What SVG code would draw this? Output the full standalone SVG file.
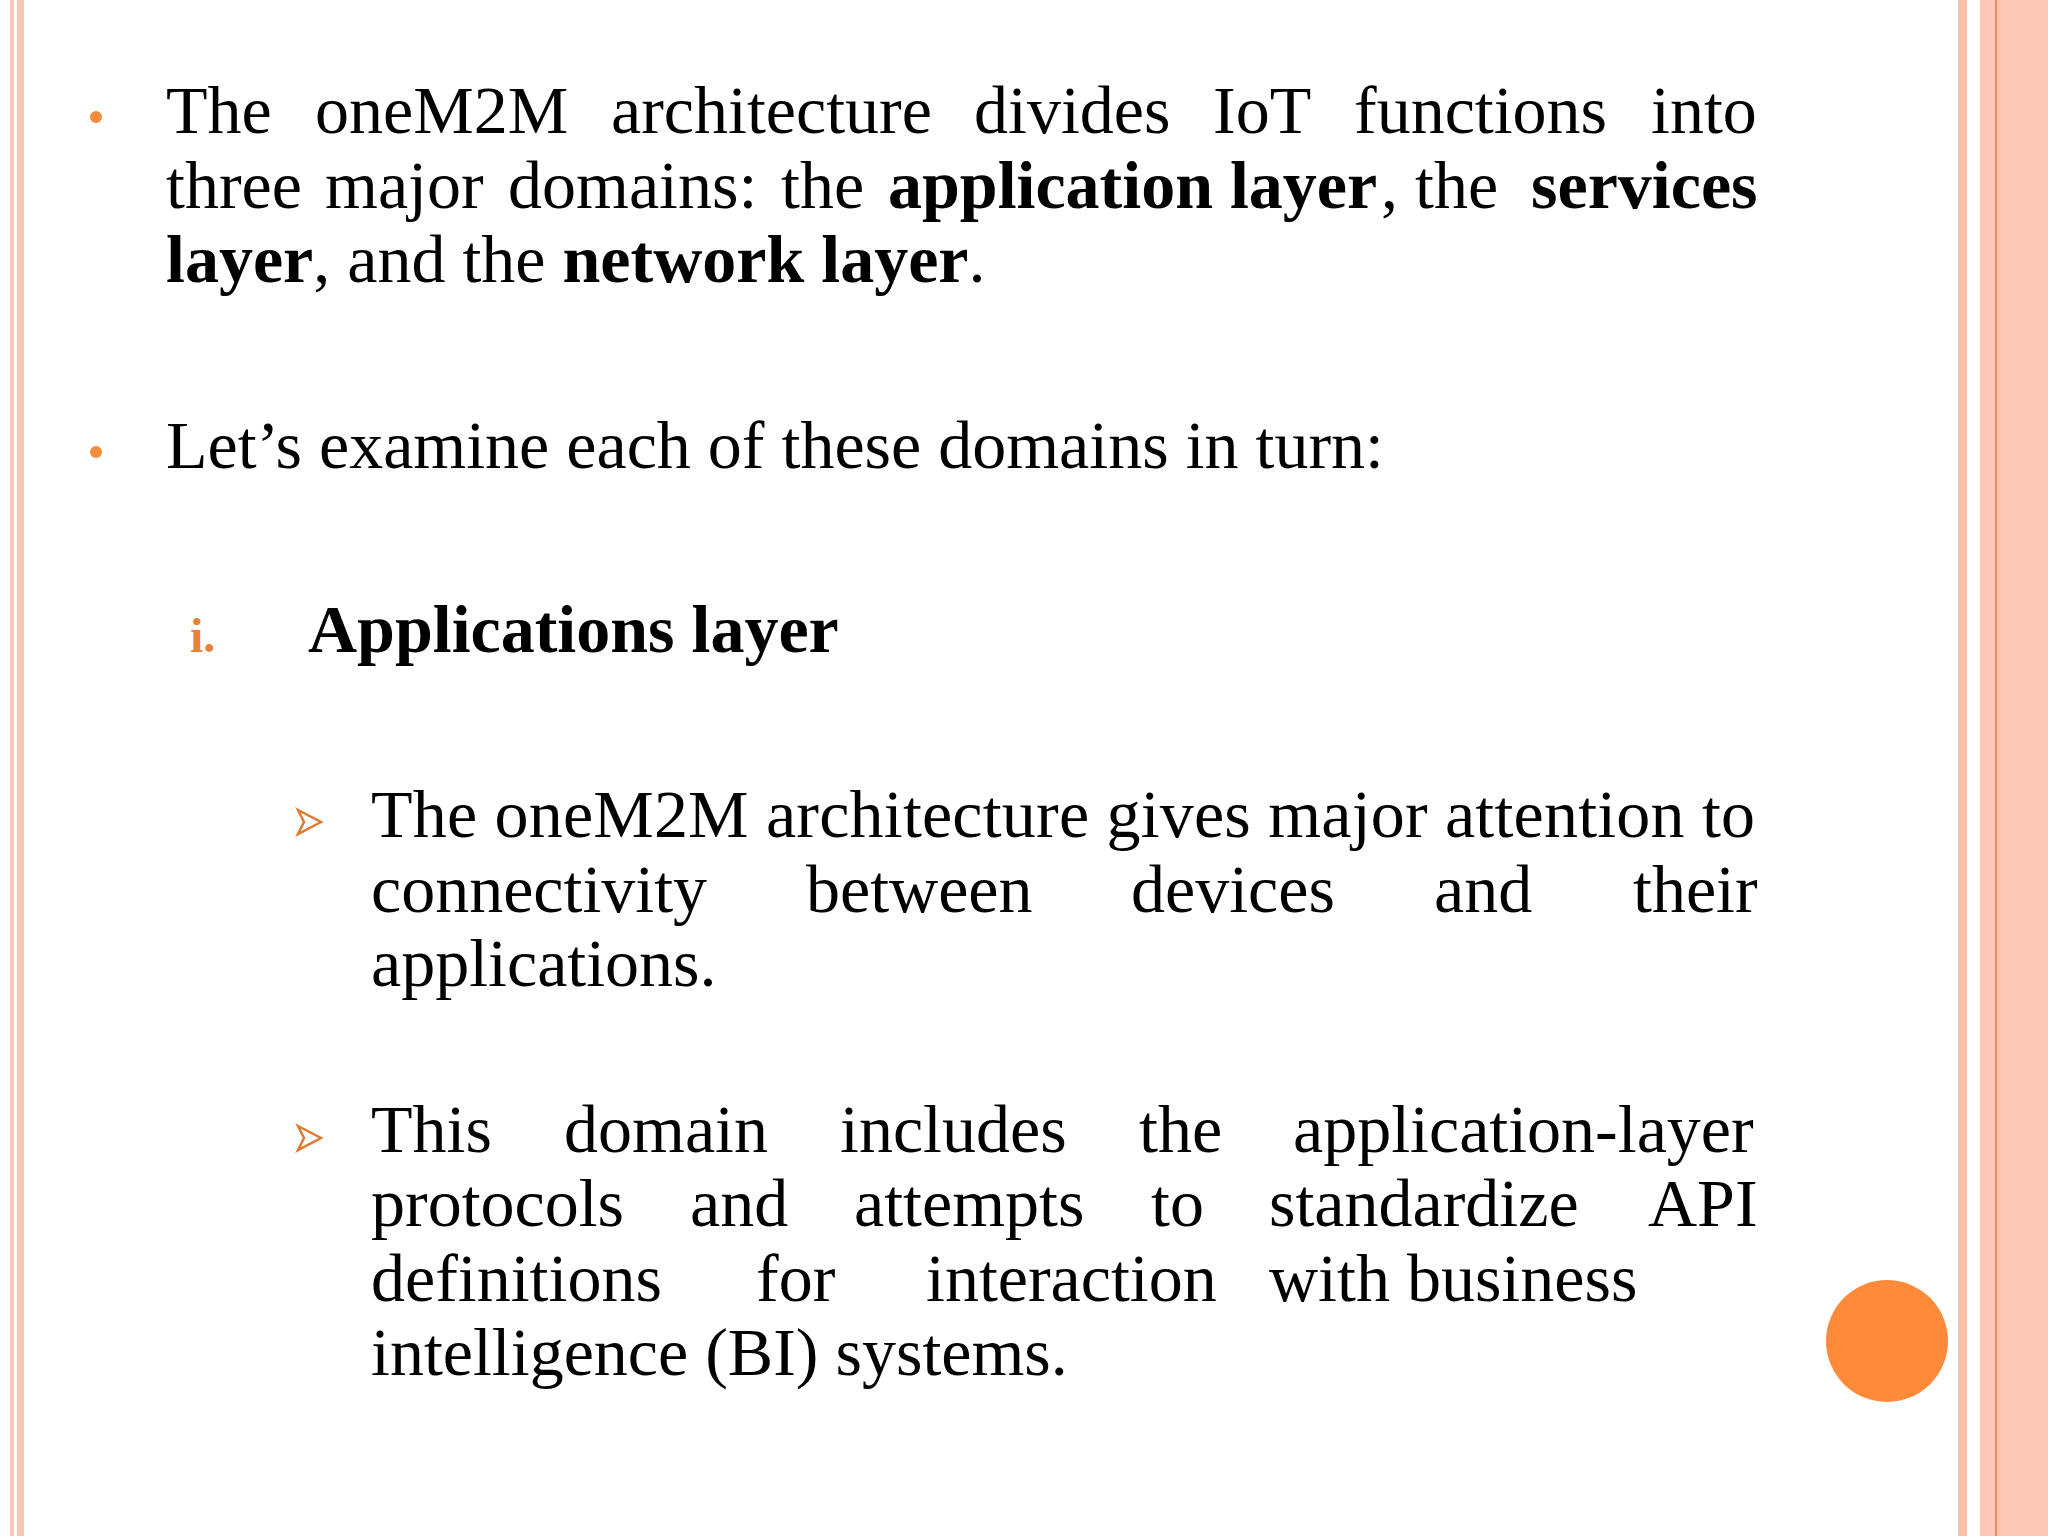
<svg xmlns="http://www.w3.org/2000/svg" width="2048" height="1536" viewBox="0 0 2048 1536">
<style>
.t{font-family:"Liberation Serif","Times New Roman",serif;font-size:68px;fill:#000}
.b{font-weight:bold}
.dot{fill:#F58B3C}
.arr{fill:#fff;stroke:#E07A2E;stroke-width:2.5}
</style>
<rect width="2048" height="1536" fill="#fff"/>
<g id="borders">
<rect x="10" y="0" width="4" height="1536" fill="#F9C7B5"/>
<rect x="17" y="0" width="7" height="1536" fill="#F9C7B5"/>
<rect x="1958" y="0" width="9" height="1536" fill="#FCC0A8"/>
<rect x="1980" y="0" width="68" height="1536" fill="#FDC8B6"/>
<rect x="1995" y="0" width="2" height="1536" fill="#F08A50"/>
</g>
<g id="bullets">
<circle class="dot" cx="96" cy="117" r="6"/>
<circle class="dot" cx="96" cy="452" r="6"/>
<text x="190" y="652" class="t b" style="fill:#E8823A;font-size:48px">i.</text>
<path class="arr" d="M298,810 L321,822 L298,834 L304,822 Z"/>
<path class="arr" d="M298,1126 L321,1138 L298,1150 L304,1138 Z"/>
</g>
<g id="text">
<text class="t" y="133"><tspan x="166">The</tspan><tspan x="315">oneM2M</tspan><tspan x="611">architecture</tspan><tspan x="974">divides</tspan><tspan x="1213">IoT</tspan><tspan x="1354">functions</tspan><tspan x="1651">into</tspan></text>
<text class="t" y="208"><tspan x="166">three</tspan><tspan x="325">major</tspan><tspan x="508">domains:</tspan><tspan x="781">the</tspan><tspan x="888" class="b">application layer</tspan><tspan x="1381">, the</tspan><tspan x="1531" class="b">services</tspan></text>
<text class="t" x="166" y="282"><tspan class="b">layer</tspan>, and the <tspan class="b">network layer</tspan>.</text>
<text class="t" x="166" y="468">Let’s examine each of these domains in turn:</text>
<text class="t b" x="308" y="652">Applications layer</text>
<text class="t" x="371" y="837" textLength="1384" lengthAdjust="spacing">The oneM2M architecture gives major attention to</text>
<text class="t" y="912"><tspan x="371">connectivity</tspan><tspan x="806">between</tspan><tspan x="1131">devices</tspan><tspan x="1434">and</tspan><tspan x="1633">their</tspan></text>
<text class="t" x="371" y="986">applications.</text>
<text class="t" y="1152"><tspan x="371">This</tspan><tspan x="564">domain</tspan><tspan x="840">includes</tspan><tspan x="1139">the</tspan><tspan x="1293">application-layer</tspan></text>
<text class="t" y="1226"><tspan x="371">protocols</tspan><tspan x="690">and</tspan><tspan x="854">attempts</tspan><tspan x="1151">to</tspan><tspan x="1269">standardize</tspan><tspan x="1648">API</tspan></text>
<text class="t" y="1301"><tspan x="371">definitions</tspan><tspan x="756">for</tspan><tspan x="926">interaction</tspan><tspan x="1269">with business</tspan></text>
<text class="t" x="371" y="1375">intelligence (BI) systems.</text>
</g>
<circle id="orb" cx="1887" cy="1341" r="61" fill="#FF8A3A"/>
</svg>
